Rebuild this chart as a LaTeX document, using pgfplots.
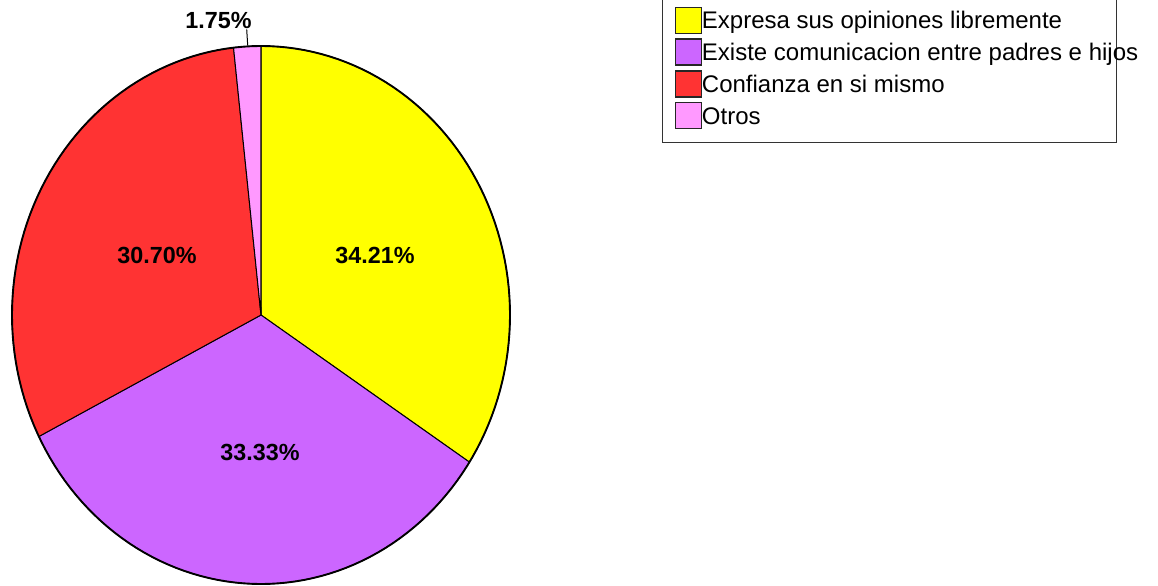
\documentclass[border=0pt]{standalone}
\usepackage{fontspec}
\setmainfont{Liberation Sans}
\usepackage{pgfplots}
\pgfplotsset{compat=1.18}

\definecolor{sliceY}{HTML}{FFFF00}
\definecolor{sliceP}{HTML}{CC66FF}
\definecolor{sliceR}{HTML}{FF3333}
\definecolor{sliceO}{HTML}{FF99FF}

% shares in percent, clockwise from the top
\def\pA{34.21}\def\pB{33.33}\def\pC{30.70}\def\pD{1.75}
% centre and radii of the pie, in pixel units of the axis
\def\cx{261}\def\cy{315}\def\rx{249}\def\ry{269}

\begin{document}
\begin{tikzpicture}
\pgfmathsetmacro\aA{90}
\pgfmathsetmacro\aB{\aA-3.6*\pA}
\pgfmathsetmacro\aC{\aB-3.6*\pB}
\pgfmathsetmacro\aD{\aC-3.6*\pC}
\pgfmathsetmacro\aE{\aD-3.6*\pD}
\begin{axis}[
  width=868.5pt, height=438.75pt, scale only axis,
  xmin=0, xmax=1158, ymin=0, ymax=585, y dir=reverse,
  hide axis, clip=false,
  legend image code/.code={\draw[#1,draw=black!85,line width=1pt] (0pt,-3.3pt) rectangle (19.5pt,16.2pt);},
  legend style={at={(axis cs:662,143)}, anchor=south west, draw=black!80, line width=0.9pt,
    inner xsep=9pt, inner ysep=9.7pt, row sep=3.4pt, column sep=0pt,
    nodes={inner sep=0pt, text height=16.2pt, text depth=3.3pt, anchor=base},
    font=\fontsize{18}{21.5}\selectfont},
  legend cell align=left,
]
\addplot[fill=sliceY, draw=black, line width=0.75pt, domain=\aB:\aA, samples=90]
  ({\cx+\rx*cos(x)}, {\cy-\ry*sin(x)}) -- (axis cs:\cx,\cy) -- cycle;
\addlegendentry{\makebox[302pt][l]{Expresa sus opiniones libremente}}
\addplot[fill=sliceP, draw=black, line width=0.75pt, domain=\aC:\aB, samples=90]
  ({\cx+\rx*cos(x)}, {\cy-\ry*sin(x)}) -- (axis cs:\cx,\cy) -- cycle;
\addlegendentry{\makebox[302pt][l]{Existe comunicacion entre padres e hijos}}
\addplot[fill=sliceR, draw=black, line width=0.75pt, domain=\aD:\aC, samples=90]
  ({\cx+\rx*cos(x)}, {\cy-\ry*sin(x)}) -- (axis cs:\cx,\cy) -- cycle;
\addlegendentry{\makebox[302pt][l]{Confianza en si mismo}}
\addplot[fill=sliceO, draw=black, line width=0.75pt, domain=\aE:\aD, samples=10]
  ({\cx+\rx*cos(x)}, {\cy-\ry*sin(x)}) -- (axis cs:\cx,\cy) -- cycle;
\addlegendentry{\makebox[302pt][l]{Otros}}
% outer rim
\addplot[draw=black, line width=1.4pt, domain=0:360, samples=181, forget plot]
  ({\cx+\rx*cos(x)}, {\cy-\ry*sin(x)});

\node[font=\bfseries\fontsize{17.5}{21}\selectfont, inner sep=0pt] at (axis cs:375,255) {\pA\%};
\node[font=\bfseries\fontsize{17.5}{21}\selectfont, inner sep=0pt] at (axis cs:260,452) {\pB\%};
\node[font=\bfseries\fontsize{17.5}{21}\selectfont, inner sep=0pt] at (axis cs:157,255) {\pC\%};
\node[font=\bfseries\fontsize{17.5}{21}\selectfont, inner sep=0pt] at (axis cs:218.5,20.5) {\pD\%};
\draw[line width=0.75pt] (axis cs:246.7,29.5) -- (axis cs:247.7,45.5);
\end{axis}
\pgfresetboundingbox
\path[use as bounding box] (current axis.south west) rectangle (current axis.north east);
\end{tikzpicture}
\end{document}
